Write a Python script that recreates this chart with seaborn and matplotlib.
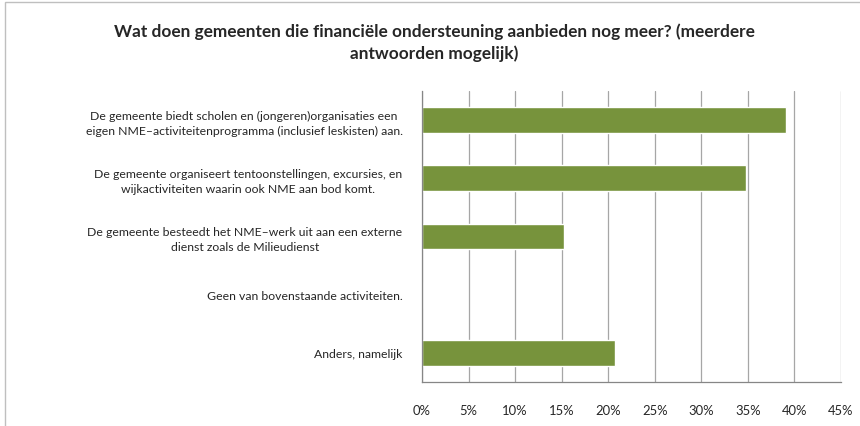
import matplotlib
matplotlib.use("Agg")
import matplotlib.pyplot as plt
import matplotlib.patches as mpatches
from matplotlib.ticker import MultipleLocator, PercentFormatter
import seaborn as sns
import pandas as pd

# --- Data ---
categories = [
    "De gemeente biedt scholen en (jongeren)organisaties een\neigen NME\u2013activiteitenprogramma (inclusief leskisten) aan.",
    "De gemeente organiseert tentoonstellingen, excursies, en\nwijkactiviteiten waarin ook NME aan bod komt.",
    "De gemeente besteedt het NME\u2013werk uit aan een externe\ndienst zoals de Milieudienst",
    "Geen van bovenstaande activiteiten.",
    "Anders, namelijk",
]
percentages = [39.1, 34.8, 15.2, 0.0, 20.7]
title = "Wat doen gemeenten die financi\u00eble ondersteuning aanbieden nog meer? (meerdere\nantwoorden mogelijk)"

# --- Style ---
sns.set_theme(style="white")
plt.rcParams['font.family'] = ['Lato', 'DejaVu Sans']

df = pd.DataFrame({"categorie": categories, "pct": percentages})

fig = plt.figure(figsize=(8.6, 4.27), dpi=100)
ax = fig.add_axes([422 / 860, 1 - 383 / 427, (841 - 422) / 860, (383 - 92) / 427])

sns.barplot(data=df, x="pct", y="categorie", orient="h", color="#77933C",
            saturation=1, width=0.44, ax=ax)

ax.set_xlim(0, 45)
ax.set_ylim(4.5, -0.5)
ax.xaxis.set_major_locator(MultipleLocator(5))
ax.xaxis.set_major_formatter(PercentFormatter(decimals=0))
ax.grid(axis="x", color="#A6A6A6", linewidth=0.9)
ax.set_axisbelow(True)
ax.set_xlabel("")
ax.set_ylabel("")

for side in ["top", "right"]:
    ax.spines[side].set_visible(False)
for side in ["left", "bottom"]:
    ax.spines[side].set_color("#868686")
    ax.spines[side].set_linewidth(0.9)

# y ticks at category boundaries, labels in the middle
ax.set_yticks([i - 0.5 for i in range(len(categories) + 1)], minor=False)
ax.set_yticklabels([])
ax.set_yticks(range(len(categories)), minor=True)
ax.set_yticklabels(categories, minor=True, fontsize=8.8, multialignment="center",
                   linespacing=1.4)
ax.tick_params(axis="y", which="major", length=4, color="#868686", width=0.9, direction="out")
ax.tick_params(axis="y", which="minor", length=0, pad=14)
ax.tick_params(axis="x", length=4, color="#868686", width=0.9, direction="out",
               labelsize=9.4, pad=12)

fig.text(0.505, 0.90, title, ha="center", va="center", fontsize=12.4,
         fontweight="bold", multialignment="center", linespacing=1.4)

# outer chart frame
fig.patches.append(mpatches.Rectangle((5 / 860, -0.01), 1.0, 1 - 3 / 427 + 0.01,
                                      transform=fig.transFigure, fill=False,
                                      edgecolor="#BFBFBF", linewidth=1.0))

fig.savefig("out.png", dpi=100)
